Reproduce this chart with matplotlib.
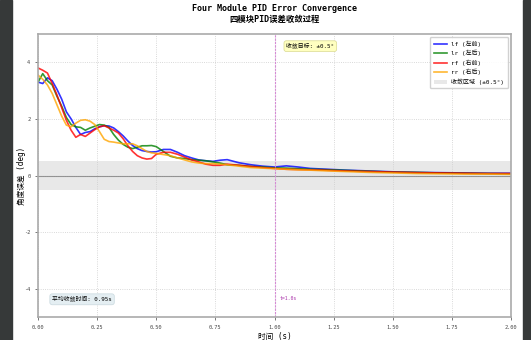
import matplotlib
matplotlib.use("Agg")
import matplotlib.pyplot as plt
from matplotlib.patches import Rectangle

plt.rcParams['font.family'] = ['DejaVu Sans Mono', 'Noto Sans CJK SC']
plt.rcParams['axes.unicode_minus'] = False

# time axis (s)
t = [0.00, 0.02, 0.04, 0.06, 0.08, 0.10, 0.12, 0.14, 0.16, 0.18,
     0.20, 0.22, 0.24, 0.26, 0.28, 0.30, 0.32, 0.34, 0.36, 0.38,
     0.40, 0.42, 0.44, 0.46, 0.48, 0.50, 0.53, 0.56, 0.59, 0.62,
     0.65, 0.68, 0.71, 0.74, 0.77, 0.80, 0.85, 0.90, 0.95, 1.00,
     1.05, 1.10, 1.15, 1.20, 1.30, 1.40, 1.50, 1.60, 1.70, 1.80,
     1.90, 2.00]

err_lf = [3.30, 3.25, 3.45, 3.35, 3.05, 2.70, 2.25, 2.00, 1.70, 1.45,
          1.52, 1.55, 1.65, 1.72, 1.76, 1.75, 1.68, 1.55, 1.40, 1.22,
          1.06, 0.95, 0.88, 0.85, 0.83, 0.84, 0.92, 0.92, 0.82, 0.70,
          0.62, 0.55, 0.52, 0.50, 0.54, 0.56, 0.45, 0.38, 0.33, 0.30,
          0.34, 0.30, 0.25, 0.23, 0.19, 0.16, 0.13, 0.11, 0.10, 0.09,
          0.08, 0.08]
err_lr = [3.30, 3.60, 3.35, 3.20, 2.80, 2.45, 2.05, 1.80, 1.72, 1.70,
          1.60, 1.68, 1.74, 1.80, 1.78, 1.70, 1.45, 1.25, 1.10, 1.00,
          0.95, 1.00, 1.05, 1.05, 1.06, 1.02, 0.85, 0.68, 0.62, 0.60,
          0.56, 0.54, 0.52, 0.48, 0.44, 0.38, 0.36, 0.32, 0.30, 0.27,
          0.26, 0.24, 0.22, 0.21, 0.18, 0.15, 0.12, 0.11, 0.09, 0.08,
          0.07, 0.06]
err_rf = [3.80, 3.72, 3.62, 3.25, 2.85, 2.40, 1.95, 1.60, 1.35, 1.45,
          1.38, 1.50, 1.62, 1.72, 1.76, 1.68, 1.60, 1.50, 1.30, 1.05,
          0.85, 0.70, 0.62, 0.58, 0.60, 0.75, 0.82, 0.82, 0.75, 0.65,
          0.55, 0.48, 0.40, 0.36, 0.36, 0.40, 0.36, 0.32, 0.28, 0.25,
          0.22, 0.21, 0.20, 0.19, 0.16, 0.14, 0.12, 0.10, 0.09, 0.08,
          0.07, 0.07]
err_rr = [3.55, 3.40, 3.20, 2.90, 2.50, 2.10, 1.78, 1.72, 1.85, 1.95,
          1.97, 1.92, 1.80, 1.55, 1.28, 1.20, 1.18, 1.15, 1.12, 1.12,
          1.12, 1.05, 0.95, 0.85, 0.80, 0.78, 0.74, 0.70, 0.62, 0.55,
          0.48, 0.44, 0.42, 0.42, 0.40, 0.38, 0.33, 0.28, 0.26, 0.24,
          0.22, 0.20, 0.19, 0.17, 0.14, 0.11, 0.09, 0.07, 0.06, 0.05,
          0.05, 0.04]

labels = ["lf (左前)", "lr (左后)", "rf (右前)", "rr (右后)"]
colors = ["blue", "green", "red", "orange"]
x_ticks = [0.00, 0.25, 0.50, 0.75, 1.00, 1.25, 1.50, 1.75, 2.00]
y_ticks = [-4, -2, 0, 2, 4]

fig = plt.figure(figsize=(5.31, 3.40), dpi=100)
# dark side strips of the screenshot
fig.patches.append(Rectangle((0, 0), 12 / 531, 1, transform=fig.transFigure,
                             color="#363939", zorder=0))
fig.patches.append(Rectangle((523 / 531, 0), 8 / 531, 1, transform=fig.transFigure,
                             color="#363939", zorder=0))

ax = fig.add_axes([38 / 531, 23 / 340, 473 / 531, 283 / 340])

for series, lab, c in zip([err_lf, err_lr, err_rf, err_rr], labels, colors):
    ax.plot(t, series, color=c, lw=1.2, alpha=0.8, label=lab)

ax.axhspan(-0.5, 0.5, color="gray", alpha=0.18, lw=0, label="收敛区域 (±0.5°)")
ax.axhline(0, color="gray", lw=0.8, alpha=0.8)
ax.axvline(1.0, color="#d58ad5", lw=0.8, ls=(0, (2, 1)))

ax.text(1.02, -4.35, "t=1.0s", color="#aa33aa", fontsize=3.5, va="center")
ax.text(1.05, 4.57, "收敛目标: ±0.5°", fontsize=4.2, va="center",
        bbox=dict(boxstyle="round,pad=0.4", fc="#ffffc0", ec="#d8d890", lw=0.5))
ax.text(0.03, 0.055, "平均收敛时间: 0.95s", fontsize=4.2, transform=ax.transAxes,
        bbox=dict(boxstyle="round,pad=0.4", fc="#e4eef2", ec="#c8d8de", lw=0.5))

ax.set_xlim(0, 2)
ax.set_ylim(-5, 5)
ax.set_xticks(x_ticks)
ax.set_yticks(y_ticks)
ax.tick_params(labelsize=3.8, length=2, width=0.5, colors="#444444")
ax.grid(True, ls=":", lw=0.6, color="#cccccc")
for s in ax.spines.values():
    s.set_color("#aaaaaa")
    s.set_linewidth(1.2)

ax.set_xlabel("时间 (s)", fontsize=5.5, labelpad=2)
ax.set_ylabel("角度误差 (deg)", fontsize=5.5)
ax.yaxis.set_label_coords(-0.026, 0.5)
ax.set_title("Four Module PID Error Convergence\n四模块PID误差收敛过程",
             fontsize=6, fontweight="semibold", pad=9, linespacing=1.15)

ax.legend(loc="upper right", fontsize=4.3, framealpha=0.9, edgecolor="#cccccc",
          handlelength=2.2, borderpad=0.6, labelspacing=0.5)

fig.savefig("out.png", dpi=100)
plt.close(fig)
